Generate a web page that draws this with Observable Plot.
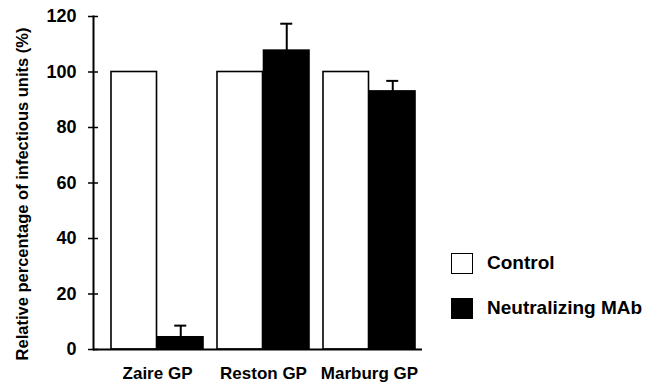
<!DOCTYPE html>
<html>
<head>
<meta charset="utf-8">
<script src="https://cdn.jsdelivr.net/npm/d3@7"></script>
<script src="https://cdn.jsdelivr.net/npm/@observablehq/plot@0.6"></script>
<style>
  html, body { margin: 0; padding: 0; background: #fff; }
  #wrap { position: relative; width: 650px; height: 390px; font-family: "Liberation Sans", Arial, sans-serif; font-weight: bold; }
  .leg { position: absolute; display: flex; align-items: center; font-size: 19px; color: #000; }
  .sw { width: 20px; height: 19px; border: 1.5px solid #000; margin-right: 14px; }
</style>
</head>
<body>
<div id="wrap"></div>
<script>
const groups = ["Zaire GP", "Reston GP", "Marburg GP"];
const series = ["Control", "Neutralizing MAb"];
const controlValues = [100, 100, 100];
const mabValues = [4.4, 107.7, 93.0];
const mabErrors = [4.2, 9.7, 3.8];
const yTicks = [0, 20, 40, 60, 80, 100, 120];
const yLabel = "Relative percentage of infectious units (%)";
const seriesFill = ["white", "black"];

const control = groups.map((g, i) => ({group: g, value: controlValues[i]}));
const mab = groups.map((g, i) => ({group: g, value: mabValues[i], hi: mabValues[i] + mabErrors[i]}));

const half = 46.5;

const plot = Plot.plot({
  width: 650,
  height: 390,
  marginLeft: 93,
  marginRight: 228,
  marginTop: 16,
  marginBottom: 41,
  style: {fontFamily: '"Liberation Sans", Arial, sans-serif', fontWeight: "bold", color: "#000", background: "white"},
  x: {domain: groups, paddingInner: 0.131, paddingOuter: 0.103, align: 0.727, label: null},
  y: {domain: [0, 120], label: null},
  marks: [
    Plot.barY(control, {x: "group", y: "value", fill: seriesFill[0], stroke: "black", strokeWidth: 1.6, insetRight: half}),
    Plot.barY(mab, {x: "group", y: "value", fill: seriesFill[1], stroke: "black", strokeWidth: 1.6, insetLeft: half}),
    Plot.ruleX(mab, {x: "group", y1: "value", y2: "hi", dx: half / 2, stroke: "black", strokeWidth: 2}),
    Plot.tickY(mab, {x: "group", y: "hi", insetLeft: half + half / 2 - 6.5, insetRight: half / 2 - 6.5, stroke: "black", strokeWidth: 2}),
    Plot.ruleY([0], {stroke: "black", strokeWidth: 2}),
    Plot.frame({anchor: "left", stroke: "black", strokeWidth: 2}),
    Plot.axisY({ticks: yTicks, tickSize: 10, dx: 5, text: null, strokeWidth: 1.5, label: null}),
    Plot.axisY({ticks: yTicks, tickSize: 0, tickPadding: 17, fontSize: 18, label: null}),
    Plot.text([yLabel], {text: d => d, frameAnchor: "left", textAnchor: "middle", rotate: -90, dx: -71, dy: 11, fontSize: 16.5, fontWeight: "bold", fill: "black"}),
    Plot.axisX({tickSize: 0, tickPadding: 17, fontSize: 17, label: null})
  ]
});

const wrap = document.getElementById("wrap");
wrap.appendChild(plot);

const legendTops = [252, 297];
series.forEach((s, i) => {
  const d = document.createElement("div");
  d.className = "leg";
  d.style.left = "451px";
  d.style.top = legendTops[i] + "px";
  const sw = document.createElement("div");
  sw.className = "sw";
  sw.style.background = seriesFill[i];
  const tx = document.createElement("span");
  tx.textContent = s;
  d.appendChild(sw);
  d.appendChild(tx);
  wrap.appendChild(d);
});
</script>
</body>
</html>
